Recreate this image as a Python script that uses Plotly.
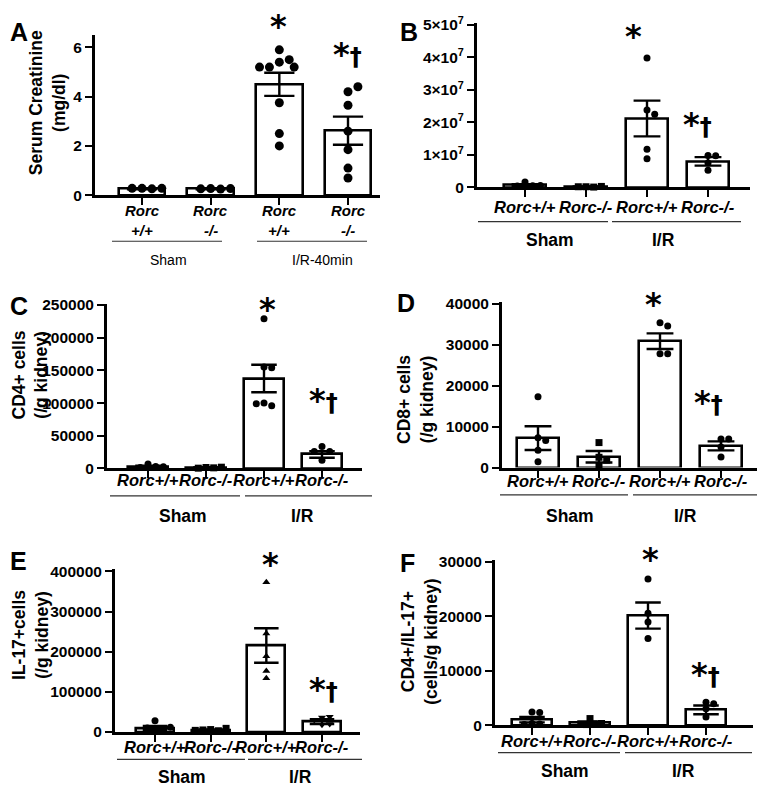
import plotly.graph_objects as go
import math

# page body has an 8px margin; size the figure so the page fits the window exactly
OFF = 8
W, H = 765 - 2 * OFF, 794 - 2 * OFF
TXT = "Liberation Sans"
TTL = "Liberation Sans"
STAR = "DejaVu Sans"

groups = ["Rorc+/+", "Rorc-/-", "Rorc+/+", "Rorc-/-"]

# ---------------- data ----------------
A_mean = [0.26, 0.25, 4.5, 2.62]
A_sem = [0.02, 0.01, 0.47, 0.57]
A_pts = [[0.28, 0.26, 0.28, 0.28],
         [0.27, 0.25, 0.26, 0.27],
         [5.4, 5.5, 5.9, 5.2, 5.2, 5.2, 3.75, 2.5, 2.0],
         [4.2, 4.4, 3.65, 2.6, 1.85, 1.1, 0.7]]

B_mean = [0.07e7, 0.02e7, 2.12e7, 0.8e7]
B_sem = [0.03e7, 0.01e7, 0.55e7, 0.13e7]
B_pts = [[0.17e7, 0.05e7, 0.04e7, 0.06e7],
         [0.02e7, 0.01e7, 0.02e7, 0.03e7],
         [3.98e7, 2.38e7, 2.25e7, 1.17e7, 0.88e7],
         [0.98e7, 0.97e7, 0.75e7, 0.53e7]]

C_mean = [3000, 1500, 137500, 21500]
C_sem = [1200, 400, 21000, 5000]
C_pts = [[7000, 3000, 1500, 2500],
         [1500, 1000, 500, 2000],
         [229000, 155000, 154000, 100000, 96000, 99000],
         [33500, 26000, 26000, 12500]]

D_mean = [7200, 2640, 30900, 5300]
D_sem = [2900, 1400, 1900, 1100]
D_pts = [[17300, 7300, 6600, 4200, 1400],
         [6100, 2500, 1800, 300],
         [35400, 34600, 27800, 27800],
         [7000, 7000, 5000, 2600]]

E_mean = [10000, 5000, 215400, 26000]
E_sem = [5000, 1500, 43000, 6000]
E_pts = [[28000, 4000, 6000, 10000, 12000],
         [6000, 3000, 5000, 9000, 4000],
         [373000, 245500, 188600, 134000, 152000],
         [36000, 18000, 20000, 30000, 38000]]

F_mean = [1000, 400, 20100, 2800]
F_sem = [500, 250, 2400, 800]
F_pts = [[2400, 2300, 300, 200, 100],
         [1200, 200, 100, 300],
         [26800, 20500, 18900, 15900],
         [4200, 3900, 3000, 1500]]

B_ticks = [0, 1e7, 2e7, 3e7, 4e7, 5e7]
B_ticktext = ["0"] + ["%d×10<sup>7</sup>" % k for k in range(1, 6)]

# ---------------- layout geometry (reference pixels) ----------------
panels = [
    dict(letter="A", mean=A_mean, sem=A_sem, pts=A_pts,
         sym=["circle"] * 4, msize=9,
         ticks=[0, 2, 4, 6], ticktext=None,
         title="Serum Creatinine<br>(mg/dl)", tpos=(47, 97),
         x0=95, x1=380, c0=142, c3=348, yz=191, ytop=27, yr_px=40, yr_val=6,
         two_line=True, lpos=(2, 3), xlab_y=(207, 227),
         gl_y=238, gl=[(112, 222), (257, 367)], glab_y=257,
         glab=[("Sham", 168), ("I/R-40min", 322)],
         star=(278, 18), star2=(347, 47)),
    dict(letter="B", mean=B_mean, sem=B_sem, pts=B_pts,
         sym=["circle", "square", "circle", "circle"], msize=7,
         ticks=B_ticks, ticktext=B_ticktext,
         title=None, tpos=None,
         x0=477, x1=750, c0=525, c3=708, yz=183, ytop=15, yr_px=17, yr_val=5e7,
         two_line=False, lpos=(398, 3), xlab_y=(203,),
         gl_y=218, gl=[(478, 608), (612, 741)], glab_y=237,
         glab=[("Sham", 550), ("I/R", 663)],
         star=(633, 28), star2=(697, 118)),
    dict(letter="C", mean=C_mean, sem=C_sem, pts=C_pts,
         sym=["circle", "square", "circle", "circle"], msize=7,
         ticks=[0, 50000, 100000, 150000, 200000, 250000], ticktext=None,
         title="CD4+ cells<br>(/g kidney)", tpos=(30, 375),
         x0=107, x1=362, c0=148, c3=322, yz=470, ytop=302, yr_px=303, yr_val=250000,
         two_line=False, lpos=(2, 288), xlab_y=(482,),
         gl_y=498, gl=[(110, 240), (245, 372)], glab_y=518,
         glab=[("Sham", 183), ("I/R", 302)],
         star=(267, 307), star2=(323, 400)),
    dict(letter="D", mean=D_mean, sem=D_sem, pts=D_pts,
         sym=["circle", "square", "circle", "circle"], msize=7,
         ticks=[0, 10000, 20000, 30000, 40000], ticktext=None,
         title="CD8+ cells<br>(/g kidney)", tpos=(416, 400),
         x0=502, x1=757, c0=538, c3=721, yz=469, ytop=300, yr_px=302, yr_val=40000,
         two_line=False, lpos=(395, 285), xlab_y=(483,),
         gl_y=497, gl=[(500, 628), (633, 757)], glab_y=518,
         glab=[("Sham", 570), ("I/R", 685)],
         star=(653, 302), star2=(708, 402)),
    dict(letter="E", mean=E_mean, sem=E_sem, pts=E_pts,
         sym=["circle", "square", "triangle-up", "triangle-down"], msize=7,
         ticks=[0, 100000, 200000, 300000, 400000], ticktext=None,
         title="IL-17+cells<br>(/g kidney)", tpos=(30, 640),
         x0=115, x1=360, c0=155, c3=322, yz=739, ytop=573, yr_px=575, yr_val=400000,
         two_line=False, lpos=(2, 548), xlab_y=(754,),
         gl_y=767, gl=[(117, 245), (248, 362)], glab_y=785,
         glab=[("Sham", 182), ("I/R", 300)],
         star=(270, 568), star2=(323, 695)),
    dict(letter="F", mean=F_mean, sem=F_sem, pts=F_pts,
         sym=["circle", "square", "circle", "circle"], msize=7,
         ticks=[0, 10000, 20000, 30000], ticktext=None,
         title="CD4+/IL-17+<br>(cells/g kidney)", tpos=(420, 647),
         x0=495, x1=753, c0=532, c3=706, yz=732, ytop=563, yr_px=565, yr_val=30000,
         two_line=False, lpos=(398, 550), xlab_y=(748,),
         gl_y=760, gl=[(498, 620), (625, 752)], glab_y=779,
         glab=[("Sham", 565), ("I/R", 683)],
         star=(650, 562), star2=(705, 680)),
]


def px(x):
    return min(1.0, max(0.0, (x - OFF) / W))


def py(y):
    return min(1.0, max(0.0, 1 - (y - OFF) / H))


def swarm(vals, px_per_val, px_per_x, diam):
    placed = []
    offs = []
    for v in vals:
        y = v * px_per_val
        k_order = [0]
        for k in range(1, 12):
            k_order += [k, -k]
        for k in k_order:
            x = k * diam * 0.55
            if all(math.hypot(x - a, y - b) >= diam * 0.95 for a, b in placed):
                break
        placed.append((x, y))
        offs.append(x / px_per_x)
    return offs


fig = go.Figure()
annotations = []
shapes = []
layout = {}

for i, p in enumerate(panels):
    n = i + 1
    xa = "x" if n == 1 else "x%d" % n
    ya = "y" if n == 1 else "y%d" % n
    s = (p["c3"] - p["c0"]) / 3.0
    xr = [-(p["c0"] - p["x0"]) / s, 3 + (p["x1"] - p["c3"]) / s]
    ytop_val = p["yr_val"] * (p["yz"] - p["ytop"]) / (p["yz"] - p["yr_px"])
    px_per_val = (p["yz"] - p["yr_px"]) / p["yr_val"]
    bw = 0.68

    fig.add_trace(go.Bar(
        x=[0, 1, 2, 3], y=p["mean"], width=bw, xaxis=xa, yaxis=ya,
        marker=dict(color="white", line=dict(color="black", width=2.6)),
        error_y=dict(type="data", array=p["sem"], color="black",
                     thickness=2.4, width=s * 0.22),
        showlegend=False, hoverinfo="skip"))

    for g in range(4):
        offs = swarm(p["pts"][g], px_per_val, s, p["msize"])
        fig.add_trace(go.Scatter(
            x=[g + o for o in offs], y=p["pts"][g], mode="markers",
            xaxis=xa, yaxis=ya, cliponaxis=False,
            marker=dict(symbol=p["sym"][g], size=p["msize"], color="black"),
            showlegend=False, hoverinfo="skip"))

    xkey = "xaxis" if n == 1 else "xaxis%d" % n
    ykey = "yaxis" if n == 1 else "yaxis%d" % n
    layout[xkey] = dict(
        domain=[px(p["x0"]), px(p["x1"])], range=xr, anchor=ya,
        showgrid=False, zeroline=False, showline=True, linecolor="black",
        linewidth=3, ticks="outside", ticklen=7, tickwidth=2.4, tickcolor="black",
        tickvals=[0, 1, 2, 3], showticklabels=False, fixedrange=True)
    layout[ykey] = dict(
        domain=[py(p["yz"]), py(p["ytop"])], range=[0, ytop_val], anchor=xa,
        showgrid=False, zeroline=False, showline=True, linecolor="black",
        linewidth=3, ticks="outside", ticklen=7, tickwidth=2.4, tickcolor="black",
        tickvals=p["ticks"],
        ticktext=["<b>%s</b>" % t for t in
                  (p["ticktext"] if p["ticktext"] else [str(t) for t in p["ticks"]])],
        tickfont=dict(family=TXT, size=15.5, color="black"),
        fixedrange=True)

    # category labels under the x axis
    for g, name in enumerate(groups):
        if p["two_line"]:
            parts = ["Rorc", name.replace("Rorc", "")]
            for t, yy in zip(parts, p["xlab_y"]):
                annotations.append(dict(text="<b><i>%s</i></b>" % t, x=g, xref=xa,
                                        y=py(yy), yref="paper", showarrow=False,
                                        xanchor="center", yanchor="middle",
                                        font=dict(family=TXT, size=15, color="black")))
        else:
            annotations.append(dict(text="<b><i>%s</i></b>" % name, x=g, xref=xa,
                                    y=py(p["xlab_y"][0]), yref="paper", showarrow=False,
                                    xanchor="center", yanchor="middle",
                                    font=dict(family=TXT, size=16.5, color="black")))

    # panel letter
    annotations.append(dict(text="<b>%s</b>" % p["letter"], x=px(max(p["lpos"][0], OFF)),
                            y=py(max(p["lpos"][1], OFF)), xref="paper", yref="paper",
                            showarrow=False, xanchor="left", yanchor="top",
                            font=dict(family=TTL, size=25, color="black")))
    # y title
    if p["title"]:
        annotations.append(dict(text="<b>%s</b>" % p["title"], x=px(p["tpos"][0]),
                                y=py(p["tpos"][1]), xref="paper", yref="paper",
                                showarrow=False, textangle=-90, xanchor="center",
                                yanchor="middle",
                                font=dict(family=TTL, size=17.5, color="black")))
    # group lines & labels
    for (a, b) in p["gl"]:
        shapes.append(dict(type="line", xref="paper", yref="paper",
                           x0=px(a), x1=px(b), y0=py(p["gl_y"]), y1=py(p["gl_y"]),
                           line=dict(color="#333333", width=1.2)))
    for (lab, xc) in p["glab"]:
        if p["two_line"]:
            f = dict(family=TXT, size=14, color="black")
            t = lab
        else:
            f = dict(family=TXT, size=17.5, color="black")
            t = "<b>%s</b>" % lab
        annotations.append(dict(text=t, x=px(xc), y=py(p["glab_y"]), xref="paper",
                                yref="paper", showarrow=False, xanchor="center",
                                yanchor="middle", font=f))
    # significance marks
    annotations.append(dict(text="<b>*</b>", x=px(p["star"][0]), y=py(p["star"][1]),
                            xref="paper", yref="paper", showarrow=False,
                            xanchor="center", yanchor="middle",
                            font=dict(family=STAR, size=32, color="black")))
    annotations.append(dict(text="<b>*<span style='font-size:24px'>†</span></b>",
                            x=px(p["star2"][0]), y=py(p["star2"][1]),
                            xref="paper", yref="paper", showarrow=False,
                            xanchor="center", yanchor="middle",
                            font=dict(family=STAR, size=32, color="black")))

fig.update_layout(
    width=W, height=H, margin=dict(l=0, r=0, t=0, b=0),
    paper_bgcolor="white", plot_bgcolor="white",
    bargap=0, showlegend=False,
    annotations=annotations, shapes=shapes, **layout)

fig.write_html("out.html")
